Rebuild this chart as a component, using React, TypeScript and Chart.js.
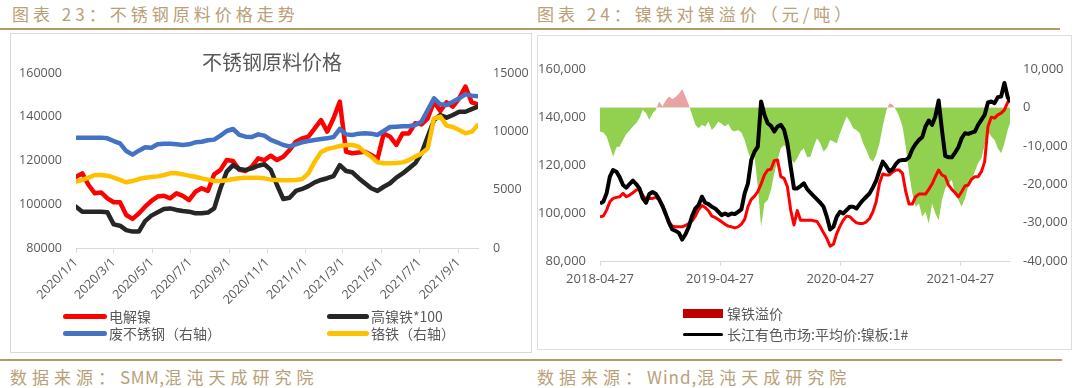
import React, { useEffect, useRef } from "react";
import { Chart, registerables } from "chart.js";

Chart.register(...registerables);

const FONT_NUM = "'Open Sans', 'Noto Sans CJK SC', sans-serif";
const FONT_CJK = "'Noto Sans CJK SC', sans-serif";
const AXIS_TEXT = "#595959";
const TAN = "#b9a078";
const TAN_LINE = "#b39a6b";

// ---------- Chart 23: 不锈钢原料价格 (samples every 10 days from 2020/1/1) ----------
const LEFT_STEP_DAYS = 10;
const LEFT_LAST_DAY = 640;
const leftTickDays = [0, 60, 121, 182, 244, 305, 366, 425, 486, 547, 609];
const leftTickLabels = [
  "2020/1/1", "2020/3/1", "2020/5/1", "2020/7/1", "2020/9/1", "2020/11/1",
  "2021/1/1", "2021/3/1", "2021/5/1", "2021/7/1", "2021/9/1",
];
const leftYTicks = [80000, 100000, 120000, 140000, 160000];
const leftY1Ticks = [0, 5000, 10000, 15000];

// 电解镍 (left axis)
const nickelCathode = [
  112600, 114100, 108800, 105000, 105400, 102700, 100900, 100900, 95100, 93300,
  95800, 98900, 101500, 103500, 103900, 102700, 105000, 103800, 101900, 105700,
  107300, 106100, 113700, 115700, 120200, 119800, 115700, 115200, 117200, 121000,
  120200, 122200, 120200, 121700, 124800, 128600, 130100, 130900, 134700, 138500,
  133200, 139300, 146900, 124000, 123300, 123700, 124000, 122500, 120700, 132400,
  130900, 127100, 132400, 132400, 137000, 136500, 139300, 146900, 142600, 146600,
  144600, 148400, 153800, 146600, 145700,
];
// 高镍铁*100 (left axis)
const highNickelPigIron = [
  98900, 96600, 96600, 96600, 96600, 96300, 90800, 90200, 88200, 87500,
  87500, 92300, 94800, 96300, 97800, 98100, 97400, 96900, 96600, 95900,
  95900, 96200, 98100, 107300, 114900, 117900, 116100, 115700, 116400, 117600,
  118300, 115700, 108800, 102400, 103000, 106100, 107000, 108300, 110000, 111100,
  111900, 112900, 117900, 115200, 114600, 111900, 109600, 107300, 106100, 108000,
  109600, 112200, 114100, 116400, 118700, 123300, 130900, 138500, 140800, 139600,
  140800, 142300, 142300, 143500, 144600,
];
// 废不锈钢 (right axis)
const scrapStainless = [
  9460, 9460, 9460, 9460, 9460, 9400, 9170, 8970, 8310, 8000,
  8340, 8630, 8600, 8890, 8940, 8940, 8890, 8830, 8890, 9060,
  9110, 9230, 9290, 9630, 10030, 10200, 9690, 9540, 9510, 9740,
  9630, 9260, 9060, 8830, 8710, 8890, 9060, 9170, 9260, 9340,
  9400, 9510, 10200, 9740, 9690, 9800, 9830, 9800, 9690, 10030,
  10370, 10400, 10430, 10430, 10540, 10830, 11830, 12830, 12320, 12260,
  12540, 12830, 13170, 13060, 13000,
];
// 铬铁 (right axis)
const ferroChrome = [
  5690, 5830, 6030, 6260, 6260, 6200, 6030, 5830, 5630, 5740,
  5910, 6030, 6090, 6140, 6260, 6400, 6400, 6310, 6200, 6110,
  5970, 5860, 5740, 5740, 5800, 5910, 5970, 6030, 6030, 6030,
  5970, 5860, 5830, 5800, 5800, 5830, 5910, 6400, 7400, 8200,
  8490, 8600, 8740, 8830, 8830, 8690, 8200, 7830, 7340, 7260,
  7260, 7290, 7340, 7540, 7830, 8090, 8540, 11110, 11260, 10490,
  10370, 10110, 9830, 9970, 10540,
];

// ---------- Chart 24: 镍铁对镍溢价 (samples every 10 days from 2018-04-27) ----------
const RIGHT_STEP_DAYS = 10;
const RIGHT_LAST_DAY = 1247;
const rightTickDays = [0, 365, 731, 1096];
const rightTickLabels = ["2018-04-27", "2019-04-27", "2020-04-27", "2021-04-27"];
const rightYTicks = [80000, 100000, 120000, 140000, 160000];
const rightY1Ticks = [-40000, -30000, -20000, -10000, 0, 10000];

// 镍铁溢价 (right axis)
const nickelIronPremium = [
  -6290, -6550, -7600, -10210, -12820, -10380, -10210, -8470, -6900, -6030,
  -4980, -4110, -2810, -630, -1500, -3240, -1500, -630, 1550, 240,
  1810, 2850, 2160, 2680, 3550, 4770, 2850, 680, -1940, -4550,
  -5420, -4550, -4980, -3680, -5860, -4980, -3680, -4290, -4980, -4290,
  -5860, -6290, -5860, -6550, -8470, -11510, -13690, -12820, -20660, -31110,
  -25010, -24140, -21530, -17170, -13690, -10640, -9770, -11080, -13260, -14560,
  -13260, -11510, -10640, -13000, -12820, -10210, -8030, -9340, -11510, -10640,
  -8470, -8900, -9340, -6730, -4550, -2370, -3680, -5420, -5860, -6730,
  -9340, -11080, -13260, -14130, -12390, -9340, -4980, -1070, 1110, 680,
  -630, -2370, -4980, -10210, -17170, -22400, -25880, -25010, -28490, -27190,
  -30240, -25010, -27620, -29360, -24140, -21090, -19790, -18920, -22400, -24140,
  -25880, -23700, -20660, -18920, -16740, -14560, -13260, -9770, -6290, -7600,
  -8470, -10640, -11950, -9340, -5860, -4110,
];
// 镍铁价格 (red line, left axis)
const nickelIronPrice = [
  98420, 98690, 101200, 104690, 106080, 106500, 106780, 108170, 106780, 107470,
  108450, 109560, 109840, 107470, 105660, 106080, 106080, 106500, 105660, 103290,
  99530, 96330, 94520, 94240, 94240, 94240, 94800, 95630, 96750, 98690,
  101480, 103150, 102320, 100920, 98690, 98140, 97300, 96330, 95350, 94520,
  94240, 93820, 94240, 95350, 97300, 102600, 105660, 107050, 108870, 112070,
  115830, 117920, 118200, 121820, 122100, 115130, 114430, 110960, 101200, 95000,
  101000, 97000, 97000, 97020, 97020, 96750, 96470, 94240, 91730, 89360,
  86200, 87000, 91450, 94520, 97020, 98690, 98420, 97020, 95910, 95630,
  95630, 96330, 97720, 100510, 104690, 112350, 116250, 115830, 115830, 117080,
  117920, 117920, 116530, 108870, 103710, 103710, 106780, 107890, 107890, 107890,
  109840, 112070, 115130, 117920, 115830, 115130, 111650, 109840, 108450, 106780,
  108870, 111230, 111650, 114020, 115130, 115130, 117220, 121400, 136030, 139930,
  139510, 140900, 141600, 142990, 146060, 146480,
];
// 长江有色市场:平均价:镍板:1# (black line, left axis)
const changjiangNickel = [
  104000, 104690, 108170, 115130, 117920, 117220, 114850, 111650, 110530, 112070,
  113460, 112070, 110260, 106080, 104270, 107890, 108730, 107890, 105660, 102870,
  99530, 95910, 93120, 92560, 91730, 88940, 91170, 94240, 98690, 101900,
  103290, 106780, 104270, 103710, 102600, 101900, 100510, 99110, 99810, 99110,
  99810, 99530, 100510, 101480, 108170, 112350, 122100, 125580, 127670, 146500,
  141000, 137420, 136310, 133940, 136030, 136720, 134630, 129060, 119310, 110260,
  110260, 111230, 112350, 110000, 108450, 107050, 105660, 104270, 102600, 98420,
  93120, 94240, 98420, 100510, 99810, 101200, 102600, 102600, 101900, 103710,
  105380, 106780, 108170, 110680, 113460, 117640, 121400, 119590, 117360, 118200,
  120430, 121820, 122100, 122100, 123210, 126550, 128780, 130460, 131570, 136030,
  138530, 136720, 140210, 146890, 134630, 123770, 123210, 123210, 125160, 127390,
  131150, 133240, 132960, 133520, 133940, 136720, 138810, 140900, 146060, 146480,
  145780, 148290, 148560, 154140, 148290, 146480,
];

const fmtThousands = (v: number) =>
  v.toLocaleString("en-US", { maximumFractionDigits: 0 });

function toPoints(values: number[], step: number, last: number) {
  return values.map((v, i) => ({ x: Math.min(i * step, last), y: v }));
}

function fixedTicks(values: number[]) {
  return (scale: any) => {
    scale.ticks = values.map((v) => ({ value: v }));
  };
}

function LeftChart() {
  const ref = useRef<HTMLCanvasElement>(null);
  useEffect(() => {
    const tickFont = { family: FONT_NUM, size: 12.5 };
    const line = (label: string, data: number[], color: string, axis: string, order: number) => ({
      label,
      data: toPoints(data, LEFT_STEP_DAYS, LEFT_LAST_DAY),
      borderColor: color,
      backgroundColor: color,
      yAxisID: axis,
      order,
      borderWidth: 4.5,
      pointRadius: 0,
      tension: 0,
      fill: false,
      borderJoinStyle: "round" as const,
      borderCapStyle: "round" as const,
    });
    const chart = new Chart(ref.current!, {
      type: "line",
      data: {
        datasets: [
          line("电解镍", nickelCathode, "#ff0000", "y", 3),
          line("高镍铁*100", highNickelPigIron, "#262626", "y", 2),
          line("废不锈钢（右轴）", scrapStainless, "#4472c4", "y1", 1),
          line("铬铁（右轴）", ferroChrome, "#ffc000", "y1", 0),
        ],
      },
      options: {
        responsive: false,
        animation: false,
        layout: { padding: { top: 40, left: 0, right: 0, bottom: 0 } },
        plugins: { legend: { display: false }, tooltip: { enabled: false }, title: { display: false } },
        scales: {
          x: {
            type: "linear",
            min: 0,
            max: LEFT_LAST_DAY,
            afterBuildTicks: fixedTicks(leftTickDays),
            afterFit: (s: any) => { s.height = 105; },
            ticks: {
              autoSkip: false,
              minRotation: 45,
              maxRotation: 45,
              padding: 2,
              color: AXIS_TEXT,
              font: tickFont,
              callback: (_v: any, i: number) => leftTickLabels[i],
            },
            grid: { display: true, drawOnChartArea: false, drawTicks: true, tickLength: 5, color: "#d9d9d9" },
            border: { display: true, color: "#d9d9d9" },
          },
          y: {
            position: "left",
            min: 80000,
            max: 160000,
            afterBuildTicks: fixedTicks(leftYTicks),
            afterFit: (s: any) => { s.width = 66; },
            ticks: { padding: 14, color: AXIS_TEXT, font: tickFont, callback: (v: any) => String(v) },
            grid: { display: false, drawTicks: false },
            border: { display: false },
          },
          y1: {
            position: "right",
            min: 0,
            max: 15000,
            afterBuildTicks: fixedTicks(leftY1Ticks),
            afterFit: (s: any) => { s.width = 54; },
            ticks: { padding: 15, color: AXIS_TEXT, font: tickFont, callback: (v: any) => String(v) },
            grid: { display: false, drawTicks: false },
            border: { display: false },
          },
        },
      } as any,
    });
    return () => chart.destroy();
  }, []);
  return (
    <canvas
      ref={ref}
      width={522}
      height={320}
      style={{ position: "absolute", left: 10, top: 33, width: 522, height: 320 }}
    />
  );
}

function RightChart() {
  const ref = useRef<HTMLCanvasElement>(null);
  useEffect(() => {
    const tickFont = { family: FONT_NUM, size: 13 };
    const chart = new Chart(ref.current!, {
      type: "line",
      data: {
        datasets: [
          {
            label: "长江有色市场:平均价:镍板:1#",
            data: toPoints(changjiangNickel, RIGHT_STEP_DAYS, RIGHT_LAST_DAY),
            borderColor: "#000000",
            backgroundColor: "#000000",
            yAxisID: "y",
            order: 0,
            borderWidth: 4,
            pointRadius: 0,
            tension: 0,
            fill: false,
            borderJoinStyle: "round",
          },
          {
            label: "镍铁价格",
            data: toPoints(nickelIronPrice, RIGHT_STEP_DAYS, RIGHT_LAST_DAY),
            borderColor: "#ff0000",
            backgroundColor: "#ff0000",
            yAxisID: "y",
            order: 1,
            borderWidth: 3,
            pointRadius: 0,
            tension: 0,
            fill: false,
            borderJoinStyle: "round",
          },
          {
            label: "镍铁溢价",
            data: toPoints(nickelIronPremium, RIGHT_STEP_DAYS, RIGHT_LAST_DAY),
            borderColor: "rgba(0,0,0,0)",
            backgroundColor: "#c00000",
            yAxisID: "y1",
            order: 2,
            borderWidth: 1,
            pointRadius: 0,
            tension: 0,
            fill: { target: "origin", above: "#e9a3a3", below: "#92d050" },
          },
        ],
      },
      options: {
        responsive: false,
        animation: false,
        layout: { padding: { top: 34, left: 0, right: 0, bottom: 0 } },
        plugins: { legend: { display: false }, tooltip: { enabled: false }, title: { display: false } },
        scales: {
          x: {
            type: "linear",
            min: 0,
            max: RIGHT_LAST_DAY,
            afterBuildTicks: fixedTicks(rightTickDays),
            afterFit: (s: any) => { s.height = 89; },
            ticks: {
              autoSkip: false,
              minRotation: 0,
              maxRotation: 0,
              padding: 5,
              color: AXIS_TEXT,
              font: tickFont,
              callback: (_v: any, i: number) => rightTickLabels[i],
            },
            grid: { display: true, drawOnChartArea: false, drawTicks: true, tickLength: 5, color: "#d9d9d9" },
            border: { display: true, color: "#d9d9d9" },
          },
          y: {
            position: "left",
            min: 80000,
            max: 160000,
            afterBuildTicks: fixedTicks(rightYTicks),
            afterFit: (s: any) => { s.width = 63; },
            ticks: { padding: 14, color: AXIS_TEXT, font: tickFont, callback: (v: any) => fmtThousands(v) },
            grid: { display: false, drawTicks: false },
            border: { display: false },
          },
          y1: {
            position: "right",
            min: -40000,
            max: 10000,
            afterBuildTicks: fixedTicks(rightY1Ticks),
            afterFit: (s: any) => { s.width = 62; },
            ticks: { padding: 13, color: AXIS_TEXT, font: tickFont, callback: (v: any) => fmtThousands(v) },
            grid: { display: false, drawTicks: false },
            border: { display: false },
          },
        },
      } as any,
    });
    return () => chart.destroy();
  }, []);
  return (
    <canvas
      ref={ref}
      width={535}
      height={315}
      style={{ position: "absolute", left: 537, top: 35, width: 535, height: 315 }}
    />
  );
}

const abs = (s: React.CSSProperties): React.CSSProperties => ({ position: "absolute", ...s });

function LegendLine({ x, y, w, color, h }: { x: number; y: number; w: number; color: string; h: number }) {
  return <div style={abs({ left: x, top: y - h / 2, width: w, height: h, background: color, borderRadius: h / 2 })} />;
}

function LegendText({ x, y, text }: { x: number; y: number; text: string }) {
  return (
    <div
      style={abs({
        left: x,
        top: y - 10,
        height: 20,
        lineHeight: "20px",
        fontFamily: FONT_CJK,
        fontSize: 14,
        color: AXIS_TEXT,
        whiteSpace: "nowrap",
      })}
    >
      {text}
    </div>
  );
}

// Renders text with wide spacing for CJK glyphs and tight spacing for Latin runs.
function SpacedText({ text, cjkSpacing, latinSpacing }: { text: string; cjkSpacing: number; latinSpacing: number }) {
  const parts = text.match(/[A-Za-z0-9,]+|[^A-Za-z0-9,]+/g) || [];
  return (
    <>
      {parts.map((p, i) => (
        <span key={i} style={{ letterSpacing: /[A-Za-z0-9,]/.test(p[0]) ? latinSpacing : cjkSpacing }}>
          {p}
        </span>
      ))}
    </>
  );
}

const headerStyle: React.CSSProperties = {
  position: "absolute",
  top: 2,
  height: 24,
  lineHeight: "24px",
  fontFamily: FONT_CJK,
  fontSize: 17,
  letterSpacing: 4,
  color: TAN,
  whiteSpace: "nowrap",
};

const footerStyle: React.CSSProperties = {
  position: "absolute",
  top: 365,
  height: 24,
  lineHeight: "24px",
  fontFamily: FONT_CJK,
  fontSize: 17,
  color: TAN,
  whiteSpace: "nowrap",
};

export default function App() {
  return (
    <div
      style={{
        position: "absolute",
        left: 0,
        top: 0,
        width: 1080,
        height: 388,
        background: "#ffffff",
        overflow: "hidden",
      }}
    >
      <div style={{ ...headerStyle, left: 12 }}>图表 23：不锈钢原料价格走势</div>
      <div style={{ ...headerStyle, left: 537 }}>图表 24：镍铁对镍溢价（元/吨）</div>
      <div style={abs({ left: 0, top: 28, width: 1060, height: 2, background: TAN_LINE })} />

      <div style={abs({ left: 10, top: 33, width: 522, height: 320, border: "1px solid #d9d9d9", boxSizing: "border-box" })} />
      <div style={abs({ left: 537, top: 35, width: 535, height: 315, border: "1px solid #dedede", boxSizing: "border-box" })} />

      <LeftChart />
      <RightChart />

      <div
        style={abs({
          left: 172,
          top: 48,
          width: 200,
          height: 28,
          lineHeight: "28px",
          textAlign: "center",
          fontFamily: FONT_CJK,
          fontSize: 20,
          color: AXIS_TEXT,
        })}
      >
        不锈钢原料价格
      </div>

      <LegendLine x={63} y={316} w={44} h={5} color="#ff0000" />
      <LegendText x={109} y={316} text="电解镍" />
      <LegendLine x={327} y={316} w={42} h={5} color="#262626" />
      <LegendText x={371} y={316} text="高镍铁*100" />
      <LegendLine x={63} y={333} w={44} h={5} color="#4472c4" />
      <LegendText x={109} y={333} text="废不锈钢（右轴）" />
      <LegendLine x={327} y={333} w={42} h={5} color="#ffc000" />
      <LegendText x={371} y={333} text="铬铁（右轴）" />

      <div style={abs({ left: 683, top: 309, width: 40, height: 9, background: "#c00000" })} />
      <LegendText x={727} y={313} text="镍铁溢价" />
      <LegendLine x={683} y={334} w={40} h={3} color="#000000" />
      <LegendText x={727} y={334} text="长江有色市场:平均价:镍板:1#" />

      <div style={abs({ left: 0, top: 359, width: 1062, height: 2, background: TAN_LINE })} />
      <div style={{ ...footerStyle, left: 10 }}>
        <SpacedText text="数据来源：SMM,混沌天成研究院" cjkSpacing={5} latinSpacing={0.5} />
      </div>
      <div style={{ ...footerStyle, left: 537 }}>
        <SpacedText text="数据来源：Wind,混沌天成研究院" cjkSpacing={5} latinSpacing={1} />
      </div>
    </div>
  );
}
